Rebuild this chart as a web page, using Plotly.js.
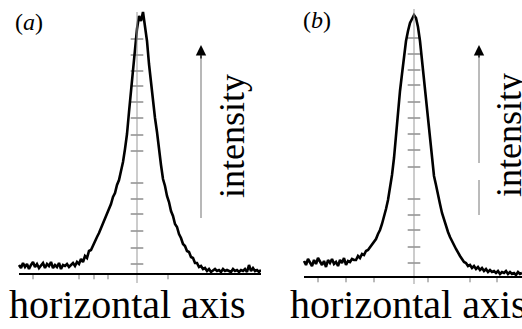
<!DOCTYPE html>
<html>
<head>
<meta charset="utf-8">
<script src="https://cdn.plot.ly/plotly-3.0.1.min.js"></script>
<style>
html,body{margin:0;padding:0;background:#fff;}
#chart{width:522px;height:329px;}
</style>
</head>
<body>
<div id="chart"></div>
<script>
// ---------- data (arbitrary units; y = intensity above baseline) ----------
const panelLabels = ["(<i>a</i>)", "(<i>b</i>)"];
const xTitle = "horizontal axis";
const yTitle = "intensity";

// panel (a)
const xA = [-118,-116,-114,-112,-110,-108,-106,-104,-102,-100,-98,-96,-94,-92,-90,-88,-86,-84,-82,-80,-78,-76,-74,-72,-70,-68,-66,-64,
  -62,-60,-58,-56,-54,-52,-50,-48,-46,-44,-42,-40,-38,-36,-34,-32,-30,-28,-26,-24,-22,-20,-18,-16,-14,-12,-10,-8,-6,-4,-2,
  0,2,4,6,8,10,
  12,14,16,18,20,22,24,26,28,30,32,34,36,38,40,42,44,46,48,50,52,54,56,58,60,62,64,66,
  68,70,72,74,76,78,80,82,84,86,88,90,92,94,96,98,100,102,104,106,108,110,112,114,116,118,120,122,124];
const yA = [9,6,11,7,10,5,9,12,7,10,6,9,11,6,10,8,12,6,9,7,11,5,9,8,10,7,9,11,
  8,12,10,15,12,18,16,23,24,29,32,37,41,46,50,56,59,66,70,77,81,89,94,103,112,125,140,162,184,208,231,
  245,258,253,262,246,233,
  210,190,175,156,142,122,109,95,88,78,72,63,58,50,47,40,36,30,28,23,22,17,16,11,11,7,8,5,
  6,3,5,2,4,5,3,4,2,5,3,4,3,2,5,3,4,2,4,3,5,2,9,3,6,3,4,2,4];
const vTicksA = [10,26,43,60,75,91,123,139,156,172,188,203,219,235];
const hTicksA = [-104,-58,-43,-29,31];

// panel (b)
const xB = [-110,-108,-106,-104,-102,-100,-98,-96,-94,-92,-90,-88,-86,-84,-82,-80,-78,-76,-74,-72,-70,-68,-66,-64,-62,-60,
  -58,-56,-54,-52,-50,-48,-46,-44,-42,-40,-38,-36,-34,-32,-30,-28,-26,-24,-22,-20,-18,-16,-14,-12,-10,-8,-6,-4,-2,
  0,2,4,6,8,10,12,14,16,18,20,22,24,26,28,30,32,34,36,38,40,42,44,46,48,50,52,54,56,
  58,60,62,64,66,68,70,72,74,76,78,80,82,84,86,88,90,92,94,96,98,100,102,104,106,108];
const yB = [16,12,18,14,11,17,13,19,15,12,16,10,17,14,18,13,15,11,17,14,19,12,16,15,18,17,
  17,21,19,23,22,26,27,30,32,35,38,43,47,53,60,68,77,89,102,119,142,166,186,203,220,236,246,254,258,
  262,259,250,236,216,194,177,160,138,118,101,92,81,73,64,57,52,45,40,35,32,28,24,21,18,15,14,11,12,
  9,11,8,10,7,9,6,8,5,7,5,6,4,6,3,5,4,6,3,5,3,4,2,5,3,4];
const vTicksB = [14,30,47,62,78,110,127,143,159,175,192,207,223,239];
const hTicksB = [-96,-68,-40,14,56,83];

// ---------- drawing ----------
const serif = "Liberation Serif, Times New Roman, serif";

function panelTraces(xs, ys, vt, ht, xa, ya) {
  return [
    {x: vt.map(() => 0), y: vt, xaxis: xa, yaxis: ya, mode: 'markers', hoverinfo: 'skip',
     marker: {symbol: 'line-ew', size: 9, line: {color: '#555', width: 1}}},
    {x: ht, y: ht.map(() => -2.5), xaxis: xa, yaxis: ya, mode: 'markers', hoverinfo: 'skip',
     marker: {symbol: 'line-ns', size: 4, line: {color: '#777', width: 1}}},
    {x: xs, y: ys, xaxis: xa, yaxis: ya, mode: 'lines', hoverinfo: 'skip',
     line: {color: '#000', width: 2.6}}
  ];
}

const data = [].concat(
  panelTraces(xA, yA, vTicksA, hTicksA, 'x', 'y'),
  panelTraces(xB, yB, vTicksB, hTicksB, 'x2', 'y2')
);

const shapes = [
  // panel a
  {type: 'line', xref: 'x', yref: 'y', x0: 0, x1: 0, y0: -9, y1: 262, line: {color: '#999', width: 1}},
  {type: 'line', xref: 'x', yref: 'y', x0: xA[0], x1: xA[xA.length-1], y0: 0, y1: 0, line: {color: '#000', width: 2}},
  {type: 'line', xref: 'x', yref: 'y', x0: 64, x1: 64, y0: 56, y1: 218, line: {color: '#a0a0a0', width: 1.5}},
  // panel b
  {type: 'line', xref: 'x2', yref: 'y2', x0: 0, x1: 0, y0: -7, y1: 268, line: {color: '#999', width: 1}},
  {type: 'line', xref: 'x2', yref: 'y2', x0: xB[0], x1: xB[xB.length-1], y0: 0, y1: 0, line: {color: '#000', width: 2}},
  {type: 'line', xref: 'x2', yref: 'y2', x0: 65, x1: 65, y0: 114, y1: 221, line: {color: '#777', width: 1}},
  {type: 'line', xref: 'x2', yref: 'y2', x0: 65, x1: 65, y0: 62, y1: 97, line: {color: '#777', width: 1}}
];

const annotations = [
  {xref: 'paper', yref: 'paper', x: 0.0546, y: 0.933, xanchor: 'center', yanchor: 'middle', text: panelLabels[0], showarrow: false,
   font: {family: serif, size: 24, color: '#000'}},
  {xref: 'paper', yref: 'paper', x: 0.607, y: 0.939, xanchor: 'center', yanchor: 'middle', text: panelLabels[1], showarrow: false,
   font: {family: serif, size: 24, color: '#000'}},
  {xref: 'paper', yref: 'paper', x: 0.244, y: 0.0745, xanchor: 'center', yanchor: 'middle', text: xTitle, showarrow: false,
   font: {family: serif, size: 40, color: '#000'}},
  {xref: 'paper', yref: 'paper', x: 0.783, y: 0.0745, xanchor: 'center', yanchor: 'middle', text: xTitle, showarrow: false,
   font: {family: serif, size: 40, color: '#000'}},
  {xref: 'x', yref: 'y', x: 95, y: 138, xanchor: 'center', yanchor: 'middle', text: yTitle, textangle: -90, showarrow: false,
   font: {family: serif, size: 36, color: '#000'}},
  {xref: 'x2', yref: 'y2', x: 95, y: 142, xanchor: 'center', yanchor: 'middle', text: yTitle, textangle: -90, showarrow: false,
   font: {family: serif, size: 36, color: '#000'}},
  {xref: 'x', yref: 'y', x: 64, y: 229, axref: 'x', ayref: 'y', ax: 64, ay: 214, text: '',
   showarrow: true, arrowhead: 2, arrowsize: 1.6, arrowwidth: 1.3, arrowcolor: '#000', standoff: 0},
  {xref: 'x2', yref: 'y2', x: 65, y: 232, axref: 'x2', ayref: 'y2', ax: 65, ay: 218, text: '',
   showarrow: true, arrowhead: 2, arrowsize: 1.6, arrowwidth: 1.3, arrowcolor: '#000', standoff: 0}
];

const hidden = {visible: false, fixedrange: true};
const layout = {
  width: 522, height: 329,
  margin: {l: 0, r: 0, t: 0, b: 0},
  paper_bgcolor: '#fff', plot_bgcolor: 'rgba(0,0,0,0)',
  showlegend: false,
  font: {family: serif},
  xaxis: Object.assign({domain: [0, 0.5], range: [-137, 124]}, hidden),
  yaxis: Object.assign({domain: [0, 1], range: [-55, 274]}, hidden),
  xaxis2: Object.assign({domain: [0.5, 1], range: [-153, 108], anchor: 'y2'}, hidden),
  yaxis2: Object.assign({domain: [0, 1], range: [-52, 277], anchor: 'x2'}, hidden),
  shapes: shapes,
  annotations: annotations
};

Plotly.newPlot('chart', data, layout, {staticPlot: true, displayModeBar: false});
</script>
</body>
</html>
